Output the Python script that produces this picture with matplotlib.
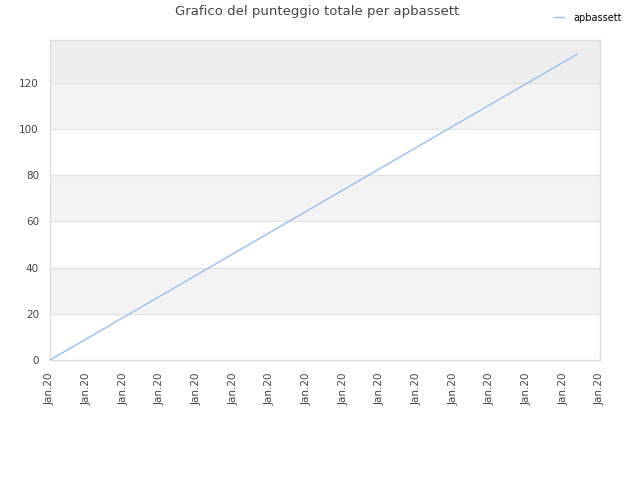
import matplotlib
matplotlib.use("Agg")
import matplotlib.pyplot as plt

# data
x_pos = [0.0, 14.38]
scores = [0.0, 132.5]
tick_labels = ["Jan.20"] * 16
y_ticks = [0, 20, 40, 60, 80, 100, 120]
title = "Grafico del punteggio totale per apbassett"
series_name = "apbassett"

fig = plt.figure(figsize=(6.4, 4.8), dpi=100)
ax = fig.add_axes([50/640, 1-360/480, 550/640, 320/480])

ymax = 138.6
# alternating bands
bands = list(range(0, 140, 20))
for i, b in enumerate(bands):
    top = min(b + 20, ymax)
    if b >= 120:
        ax.axhspan(b, top, color="#eeeeee", lw=0, zorder=0)
    elif (b // 20) % 2 == 1:
        ax.axhspan(b, top, color="#f3f3f3", lw=0, zorder=0)

for yt in y_ticks[1:]:
    ax.axhline(yt, color="#e0e0e0", lw=0.8, zorder=1)

ax.plot(x_pos, scores, color="#94c1f0", lw=1.0, zorder=3, label=series_name)

ax.set_xlim(0, 15)
ax.set_ylim(0, ymax)
ax.set_xticks(range(16))
ax.set_xticklabels(tick_labels, rotation=90, fontsize=7.5, color="#444444")
ax.set_yticks(y_ticks)
ax.set_yticklabels([str(v) for v in y_ticks], fontsize=7.5, color="#444444")
ax.tick_params(axis="x", length=0, pad=9)
ax.tick_params(axis="y", length=0, pad=8)
for s in ax.spines.values():
    s.set_color("#dddddd")
    s.set_linewidth(1.0)

fig.text(0.495, 1-12/480, title, ha="center", va="center", fontsize=9.5, color="#444444")
fig.legend(loc="upper right", bbox_to_anchor=(0.986, 0.992), frameon=False, fontsize=7,
           handlelength=1.0, handletextpad=1.0)

fig.savefig("out.png", dpi=100)
